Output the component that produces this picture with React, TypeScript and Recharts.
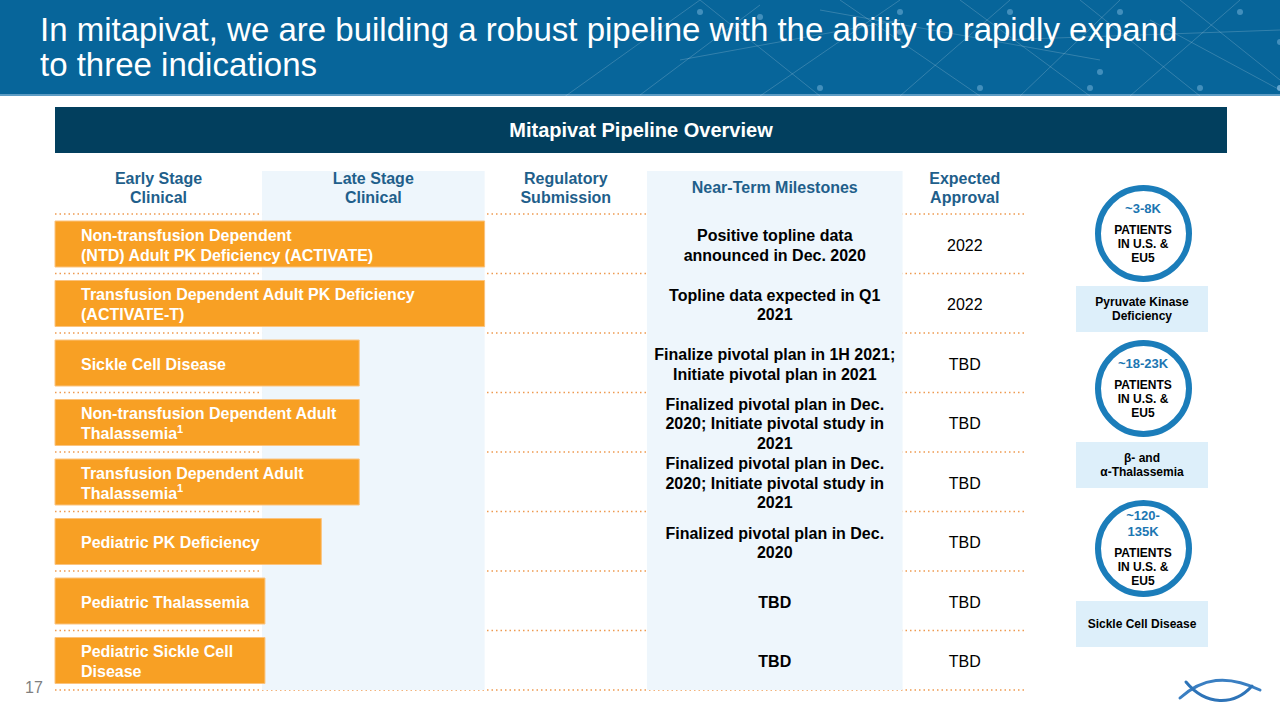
import { BarChart, Bar, XAxis, YAxis, CartesianGrid, ReferenceArea, LabelList } from 'recharts';

const FONT = 'Arial, "Liberation Sans", Helvetica, sans-serif';

// programs (bar labels), one entry per line; "^" marks a footnote superscript
const programs = [
  ['Non-transfusion Dependent', '(NTD) Adult PK Deficiency (ACTIVATE)'],
  ['Transfusion Dependent Adult PK Deficiency', '(ACTIVATE-T)'],
  ['Sickle Cell Disease'],
  ['Non-transfusion Dependent Adult', 'Thalassemia^1'],
  ['Transfusion Dependent Adult', 'Thalassemia^1'],
  ['Pediatric PK Deficiency'],
  ['Pediatric Thalassemia'],
  ['Pediatric Sickle Cell', 'Disease'],
];

// how far along the pipeline each program is (0-100 scale across the table)
const progress = [44.2, 44.2, 31.3, 31.3, 31.3, 27.4, 21.6, 21.6];

const milestones = [
  ['Positive topline data', 'announced in Dec. 2020'],
  ['Topline data expected in Q1', '2021'],
  ['Finalize pivotal plan in 1H 2021;', 'Initiate pivotal plan in 2021'],
  ['Finalized pivotal plan in Dec.', '2020; Initiate pivotal study in', '2021'],
  ['Finalized pivotal plan in Dec.', '2020; Initiate pivotal study in', '2021'],
  ['Finalized pivotal plan in Dec.', '2020'],
  ['TBD'],
  ['TBD'],
];

const approvals = ['2022', '2022', 'TBD', 'TBD', 'TBD', 'TBD', 'TBD', 'TBD'];

const stageNames = [
  ['Early Stage', 'Clinical'],
  ['Late Stage', 'Clinical'],
  ['Regulatory', 'Submission'],
  ['Near-Term Milestones'],
  ['Expected', 'Approval'],
];
const stageEdges = [0, 21.3, 44.2, 60.9, 87.2, 100];
const stageShaded = [false, true, false, true, false];

const markets = [
  { size: ['~3-8K'], disease: ['Pyruvate Kinase', 'Deficiency'] },
  { size: ['~18-23K'], disease: ['β- and', 'α-Thalassemia'] },
  { size: ['~120-', '135K'], disease: ['Sickle Cell Disease'] },
];

const rows = programs.map((lines, i) => ({
  name: lines.join(' '),
  lines,
  progress: progress[i],
  milestone: milestones[i],
  approval: approvals[i],
}));

const HEADER_H = 43;
const ORANGE = '#F8A024';
const HEAD_BLUE = '#1F5F8B';
const SHADE = '#EEF6FC';

function BarText(props: any) {
  const { x, y, height, index } = props;
  const lines = rows[index].lines;
  const cy = y + height / 2 + 1 - ((lines.length - 1) * 20) / 2;
  return (
    <g fontFamily={FONT} fontWeight="bold" fill="#fff">
      {lines.map((l: string, k: number) => {
        const [main, sup] = l.split('^');
        return (
          <text key={k} x={x + 26} y={cy + k * 20} fontSize={16} dominantBaseline="central">
            {main}
            {sup && (
              <tspan fontSize={11} dy={-5}>{sup}</tspan>
            )}
          </text>
        );
      })}
    </g>
  );
}

function ColumnLabel(props: any) {
  const { viewBox, col } = props;
  const { x, y, width, height } = viewBox;
  const cx = x + width / 2;
  const head = stageNames[col];
  const rowH = height / rows.length;
  const headTop = y - HEADER_H + 16 - ((head.length - 1) * 19) / 2;
  const cells = col === 3 ? rows.map((r) => r.milestone) : col === 4 ? rows.map((r) => [r.approval]) : [];
  return (
    <g fontFamily={FONT}>
      {stageShaded[col] && <rect x={x} y={y - HEADER_H} width={width} height={HEADER_H} fill={SHADE} />}
      <text textAnchor="middle" fontSize={16} fontWeight="bold" fill={HEAD_BLUE} dominantBaseline="central">
        {head.map((l, k) => (
          <tspan key={k} x={cx} y={headTop + k * 19}>{l}</tspan>
        ))}
      </text>
      {cells.map((lines, i) => {
        const rc = y + (i + 0.5) * rowH + 1 - ((lines.length - 1) * 19.5) / 2;
        return (
          <text key={i} textAnchor="middle" fontSize={16} fontWeight={col === 3 ? 'bold' : 'normal'} fill="#000" dominantBaseline="central">
            {lines.map((l, k) => (
              <tspan key={k} x={cx} y={rc + k * 19.5}>{l}</tspan>
            ))}
          </text>
        );
      })}
    </g>
  );
}

function Header() {
  const net = [
    [560, 100, 700, 0], [640, 95, 760, 5], [700, 0, 820, 96], [760, 96, 900, 0], [840, 0, 980, 96],
    [900, 96, 1010, 0], [960, 0, 1090, 96], [1020, 96, 1120, 0], [1080, 0, 1200, 96], [1130, 96, 1240, 0],
    [1180, 0, 1280, 80], [1000, 40, 1280, 30], [820, 10, 1100, 60], [1150, 20, 1280, 90], [680, 60, 900, 20],
  ];
  return (
    <div style={{ position: 'absolute', left: 0, top: 0, width: 1280, height: 96, background: '#07659A', borderBottom: '2px solid #5D9CC4', boxSizing: 'border-box' }}>
      <svg width={1280} height={96} style={{ position: 'absolute', left: 0, top: 0 }}>
        {net.map((l, i) => (
          <line key={i} x1={l[0]} y1={l[1]} x2={l[2]} y2={l[3]} stroke="#ffffff" strokeOpacity={0.18} strokeWidth={1} />
        ))}
        {net.map((l, i) => (
          <circle key={'c' + i} cx={l[2]} cy={Math.min(l[3] + 12, 88)} r={3} fill="#8CC3E6" fillOpacity={0.45} />
        ))}
      </svg>
      <div style={{ position: 'absolute', left: 40, top: 12, width: 1160, color: '#fff', fontFamily: FONT, fontSize: 33, lineHeight: '35px' }}>
        In mitapivat, we are building a robust pipeline with the ability to rapidly expand to three indications
      </div>
    </div>
  );
}

function Markets() {
  const centers = [233, 388, 548];
  const boxTops = [286, 442, 601];
  return (
    <>
      {markets.map((m, i) => (
        <div key={i}>
          <div
            style={{
              position: 'absolute', left: 1143 - 48.5, top: centers[i] - 48.5, width: 97, height: 97, boxSizing: 'border-box',
              border: '6px solid #1B7DBA', borderRadius: '50%', display: 'flex', flexDirection: 'column', alignItems: 'center',
              justifyContent: 'center', fontFamily: FONT, fontWeight: 'bold', textAlign: 'center',
            }}
          >
            <div style={{ color: '#1C76B2', fontSize: 13, lineHeight: '16px', marginBottom: 6 }}>
              {m.size.map((s, k) => <div key={k}>{s}</div>)}
            </div>
            <div style={{ color: '#000', fontSize: 12, lineHeight: '14px' }}>
              PATIENTS<br />IN U.S. &amp;<br />EU5
            </div>
          </div>
          <div
            style={{
              position: 'absolute', left: 1076, top: boxTops[i], width: 132, height: 46, background: '#DDEFFA', display: 'flex',
              flexDirection: 'column', alignItems: 'center', justifyContent: 'center', fontFamily: FONT, fontWeight: 'bold',
              fontSize: 12, lineHeight: '14px', color: '#000', textAlign: 'center',
            }}
          >
            {m.disease.map((d, k) => <div key={k}>{d}</div>)}
          </div>
        </div>
      ))}
    </>
  );
}

export default function App() {
  return (
    <div style={{ position: 'absolute', left: 0, top: 0, width: 1280, height: 720, background: '#fff', overflow: 'hidden' }}>
      <Header />
      <div
        style={{
          position: 'absolute', left: 55, top: 107, width: 1172, height: 46, background: '#023F5E', color: '#fff',
          fontFamily: FONT, fontWeight: 'bold', fontSize: 20, lineHeight: '46px', textAlign: 'center',
        }}
      >
        Mitapivat Pipeline Overview
      </div>
      <div style={{ position: 'absolute', left: 0, top: 0 }}>
        <BarChart
          width={1280}
          height={720}
          layout="vertical"
          data={rows}
          margin={{ top: 214, right: 253, bottom: 30, left: 55 }}
          style={{ overflow: 'visible' }}
        >
          <XAxis type="number" domain={[0, 100]} hide />
          <YAxis type="category" dataKey="name" hide />
          {stageNames.map((_, c) => (
            <ReferenceArea
              key={c}
              x1={stageEdges[c]}
              x2={stageEdges[c + 1]}
              fill={stageShaded[c] ? SHADE : '#ffffff'}
              fillOpacity={stageShaded[c] ? 1 : 0}
              stroke="none"
              label={<ColumnLabel col={c} />}
            />
          ))}
          <CartesianGrid
            vertical={false}
            stroke="#EE9A50"
            strokeWidth={1.5}
            strokeDasharray="1.5 3"
            horizontalCoordinatesGenerator={({ offset }: any) =>
              Array.from({ length: rows.length + 1 }, (_, i) => offset.top + (i * offset.height) / rows.length)
            }
          />
          <Bar dataKey="progress" fill={ORANGE} stroke="#FBC37E" strokeWidth={1} barSize={46} isAnimationActive={false}>
            <LabelList dataKey="progress" content={(p: any) => <BarText {...p} />} />
          </Bar>
        </BarChart>
      </div>
      <Markets />
      <div style={{ position: 'absolute', left: 25, top: 679, color: '#7F7F7F', fontFamily: FONT, fontSize: 16 }}>17</div>
      <svg width={100} height={36} style={{ position: 'absolute', left: 1172, top: 672 }}>
        <path d="M8 26 C 30 6, 55 2, 88 18" stroke="#3A7FC2" strokeWidth={3} fill="none" strokeLinecap="round" />
        <path d="M14 10 C 34 34, 62 34, 80 14" stroke="#2E74B8" strokeWidth={3} fill="none" strokeLinecap="round" />
      </svg>
    </div>
  );
}
